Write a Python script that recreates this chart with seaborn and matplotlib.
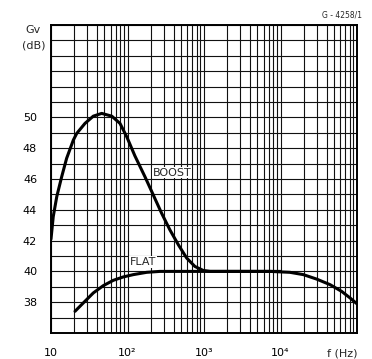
import matplotlib
matplotlib.use("Agg")
import matplotlib.pyplot as plt
import matplotlib.ticker as mticker
import seaborn as sns
import pandas as pd
import numpy as np

sns.set_theme(style="white")
plt.rcParams['font.family'] = ['DejaVu Sans']

# Data
boost_f = [10, 10.7, 11.9, 13.8, 16.0, 19.6, 21.7, 27.8, 35.7, 46.0, 62.3, 79.8, 97.8, 125, 169,
           217, 279, 358, 462, 593, 761, 979, 1200, 3000, 10000]
boost_g = [42.1, 43.56, 44.86, 46.15, 47.34, 48.53, 48.96, 49.61, 50.08, 50.26, 50.08, 49.61, 48.74,
           47.5, 46.15, 44.97, 43.78, 42.70, 41.73, 40.87, 40.32, 40.06, 40.0, 40.0, 40.0]
flat_f = [20.6, 26.4, 35.7, 48.1, 65.2, 88, 119, 178, 265, 1000, 7300, 13300, 19900, 29700,
          44400, 63100, 81000, 99000]
flat_g = [37.41, 37.95, 38.60, 39.07, 39.42, 39.64, 39.79, 39.94, 40.0, 40.0, 40.0, 39.94, 39.79,
          39.5, 39.14, 38.7, 38.28, 37.91]
xticks = [10, 100, 1000, 10000]
xticklabels = ["10", "10²", "10³", "10⁴"]
yticks = [38, 40, 42, 44, 46, 48, 50]

df = pd.concat([
    pd.DataFrame({"f": boost_f, "g": boost_g, "curve": "BOOST"}),
    pd.DataFrame({"f": flat_f, "g": flat_g, "curve": "FLAT"}),
])

fig = plt.figure(figsize=(3.72, 3.59), dpi=100)
ax = fig.add_axes([51/372, 26/359, 306/372, 308/359])

sns.lineplot(data=df, x="f", y="g", units="curve", estimator=None, color="black",
             linewidth=2.2, ax=ax, sort=False, legend=False,
             solid_capstyle="round", solid_joinstyle="round")

ax.set_xscale("log")
ax.set_xlim(10, 1e5)
ax.set_ylim(36, 56)
ax.xaxis.set_major_locator(mticker.FixedLocator(xticks))
ax.xaxis.set_minor_locator(mticker.LogLocator(base=10, subs=np.arange(2, 10)))
ax.xaxis.set_minor_formatter(mticker.NullFormatter())
ax.set_xticks(xticks)
ax.set_xticklabels(xticklabels)
ax.set_yticks(yticks)
ax.yaxis.set_minor_locator(mticker.MultipleLocator(1))
ax.grid(True, which="both", color="#111111", linewidth=0.8)
ax.tick_params(which="both", length=0, labelsize=8, colors="black")
ax.tick_params(axis="x", pad=11)
ax.tick_params(axis="y", pad=10)
for s in ax.spines.values():
    s.set_color("black")
    s.set_linewidth(1.4)
ax.set_xlabel("")
ax.set_ylabel("")

ax.text(215, 46.42, "BOOST", fontsize=8, va="center", ha="left",
        bbox=dict(facecolor="white", edgecolor="none", pad=0.5))
ax.text(108, 40.6, "FLAT", fontsize=8, va="center", ha="left",
        bbox=dict(facecolor="white", edgecolor="none", pad=0.5))

fig.text(33/372, 1 - 30/359, "Gv", fontsize=8, ha="center", va="center")
fig.text(33.5/372, 1 - 45/359, "(dB)", fontsize=8, ha="center", va="center")
fig.text(342/372, 1 - 353/359, "f (Hz)", fontsize=8, ha="center", va="center")
fig.text(362/372, 1 - 15/359, "G - 4258/1", fontsize=5.5, ha="right", va="center")

fig.savefig("out.png", dpi=100)
